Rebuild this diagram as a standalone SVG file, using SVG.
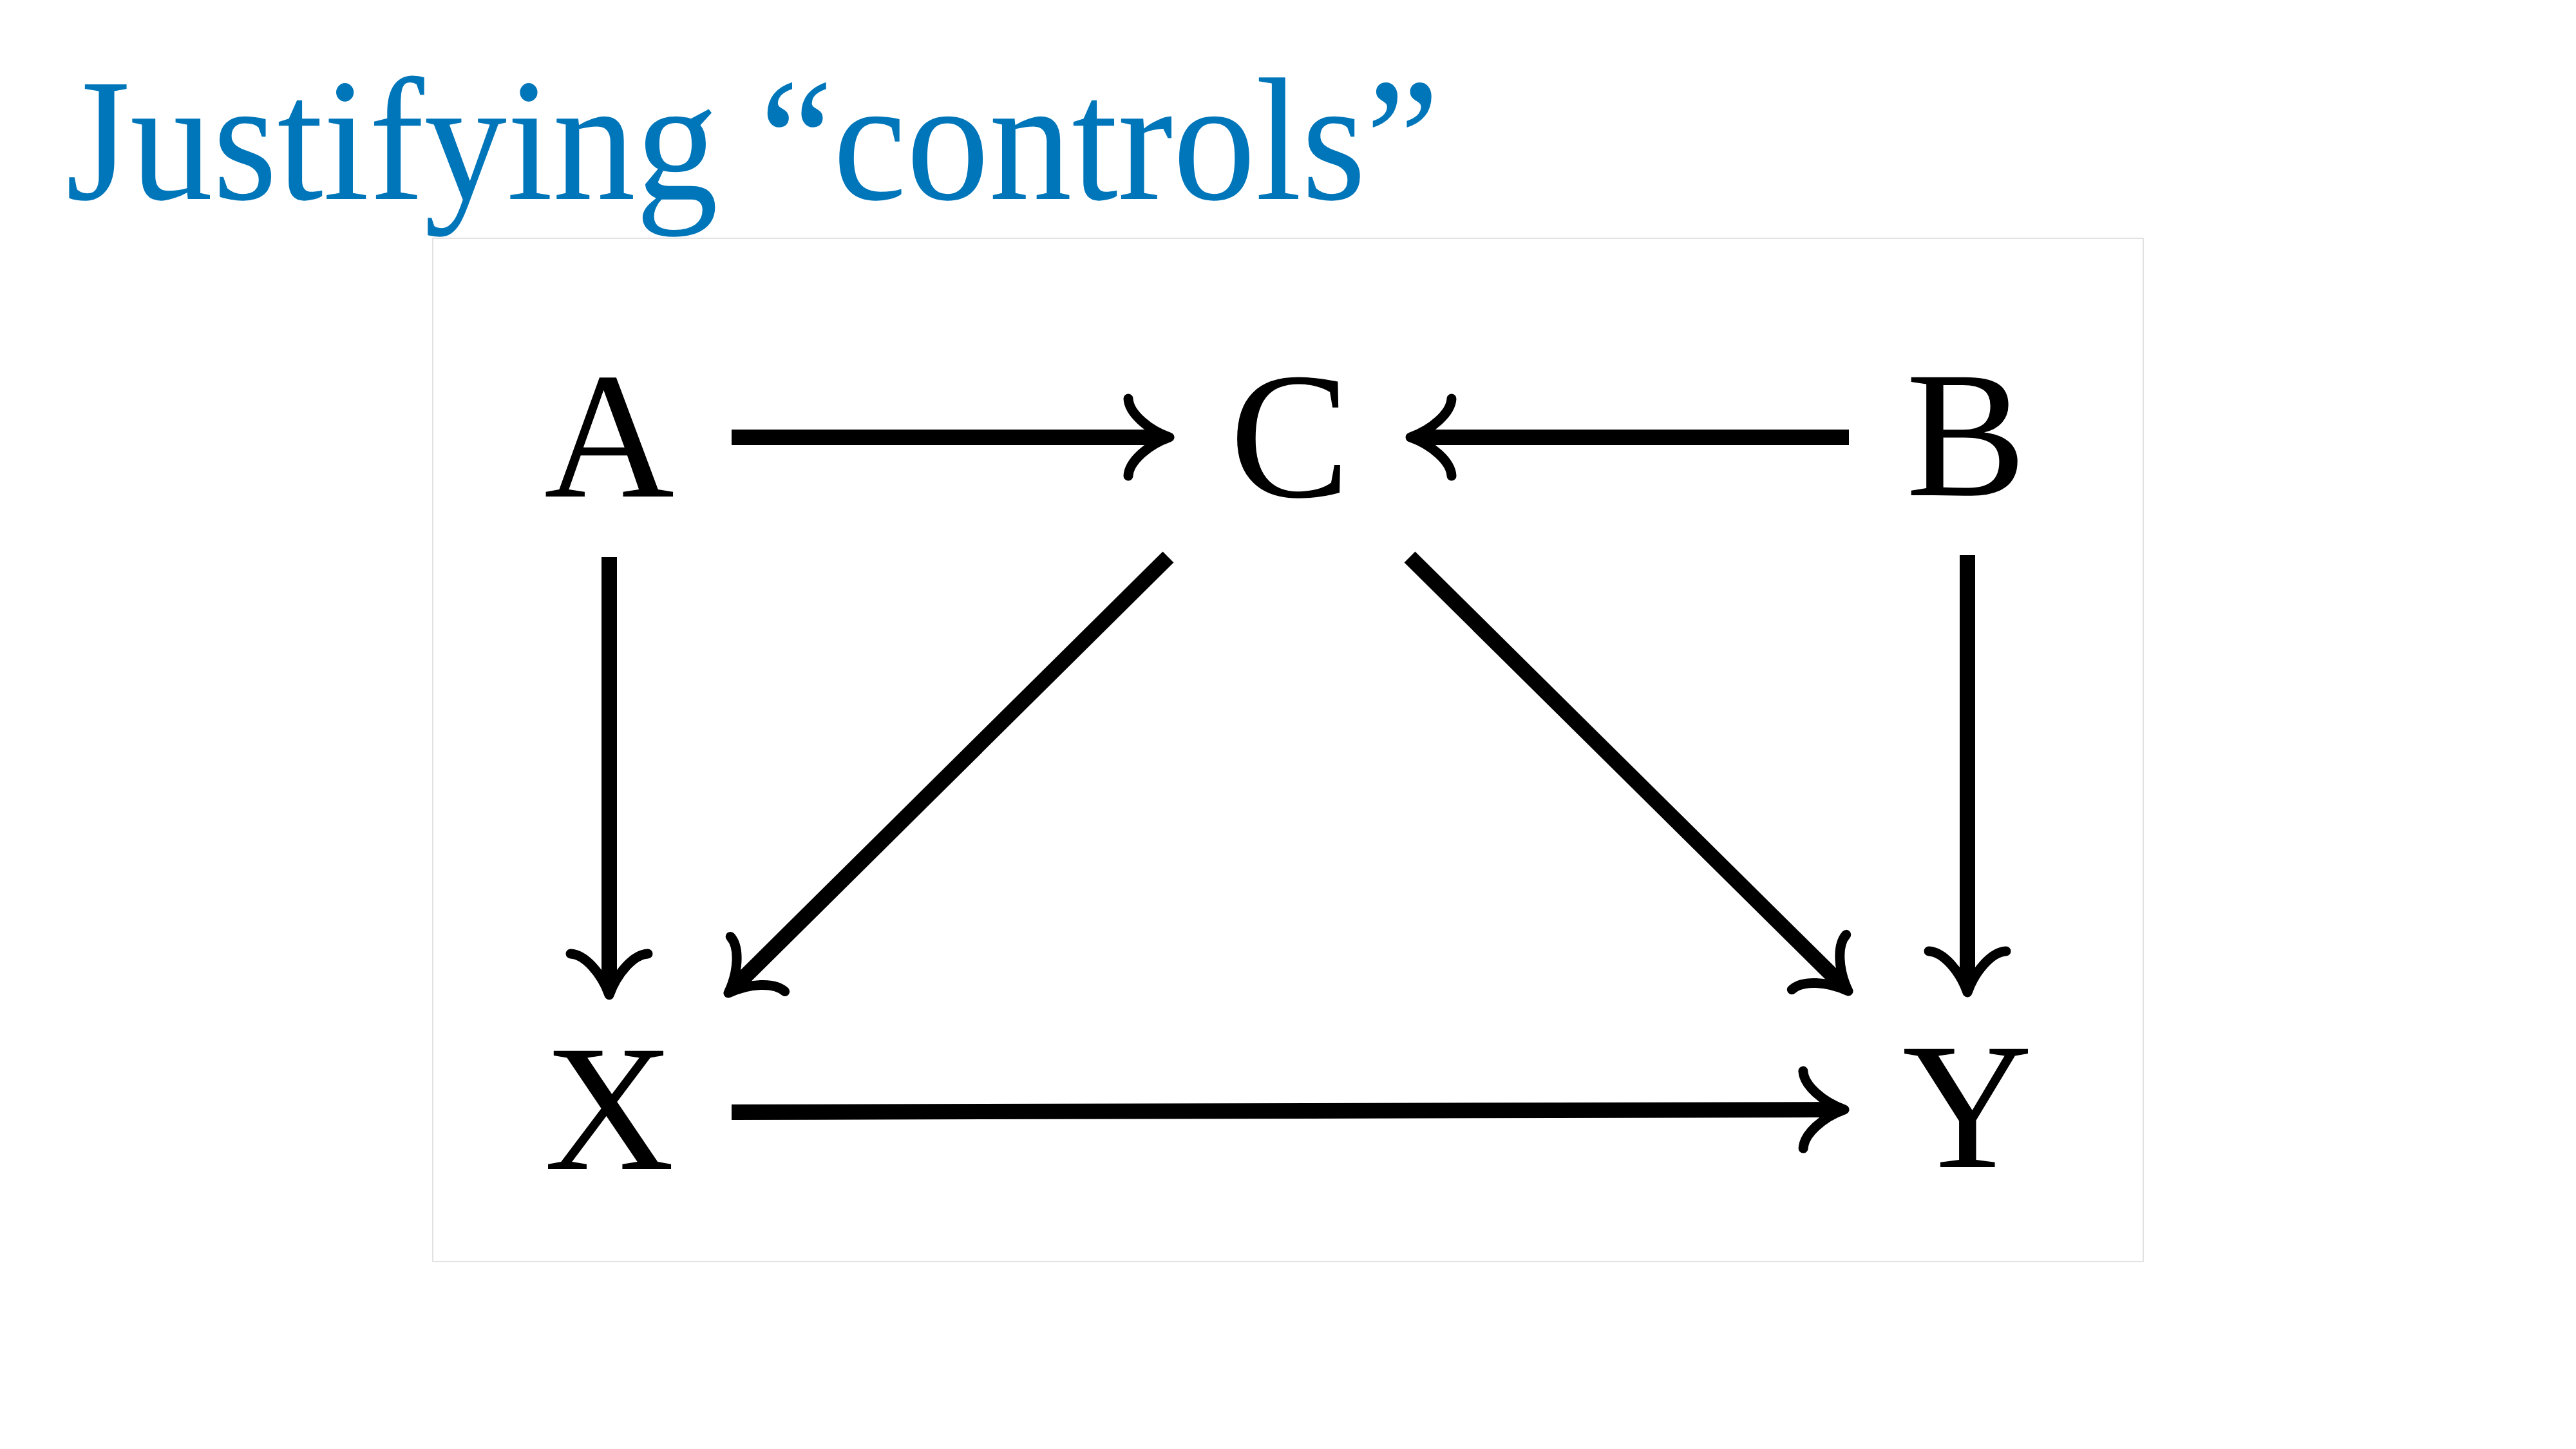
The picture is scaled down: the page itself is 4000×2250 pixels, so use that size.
<svg xmlns="http://www.w3.org/2000/svg" width="4000" height="2250" viewBox="0 0 4000 2250">
  <style>
    .title { font-family: "Liberation Serif", "DejaVu Serif", serif; font-size: 272px; fill: #0076BA; }
    .node { font-family: "Liberation Serif", "DejaVu Serif", serif; font-size: 280px; fill: #000; text-anchor: middle; }
    .edge { stroke: #000; stroke-width: 24; fill: none; marker-end: url(#head); }
  </style>
  <defs>
    <marker id="head" markerUnits="userSpaceOnUse" viewBox="-90 -80 110 160" refX="-12" refY="0" markerWidth="110" markerHeight="160" orient="auto" overflow="visible">
      <path d="M -64 -60 C -63 -38, -34 -12, 0 0 C -34 12, -63 38, -64 60" fill="none" stroke="#000" stroke-width="15" stroke-linecap="round" stroke-linejoin="round"/>
    </marker>
  </defs>
  <rect x="0" y="0" width="4000" height="2250" fill="#fff"/>
  <text class="title" x="102" y="309" textLength="2133" lengthAdjust="spacingAndGlyphs">Justifying “controls”</text>
  <rect x="672" y="370" width="2656" height="1589" fill="#fff" stroke="#e2e2e2" stroke-width="2"/>

  <g id="connectors">
    <line class="edge" x1="1136" y1="679" x2="1804" y2="679"/>
    <line class="edge" x1="2871" y1="679" x2="2202" y2="679"/>
    <line class="edge" x1="946" y1="865" x2="946" y2="1533"/>
    <line class="edge" x1="3055" y1="862" x2="3055" y2="1529"/>
    <line class="edge" x1="1814" y1="865" x2="1139.5" y2="1533.6"/>
    <line class="edge" x1="2189" y1="865" x2="2861.5" y2="1530.6"/>
    <line class="edge" x1="1136" y1="1727" x2="2852" y2="1723"/>
  </g>

  <g id="node-A"><text class="node" x="946" y="771">A</text></g>
  <g id="node-C"><text class="node" x="2003" y="771">C</text></g>
  <g id="node-B"><text class="node" x="3053" y="769">B</text></g>
  <g id="node-X"><text class="node" x="946" y="1815">X</text></g>
  <g id="node-Y"><text class="node" x="3055" y="1812">Y</text></g>
</svg>
